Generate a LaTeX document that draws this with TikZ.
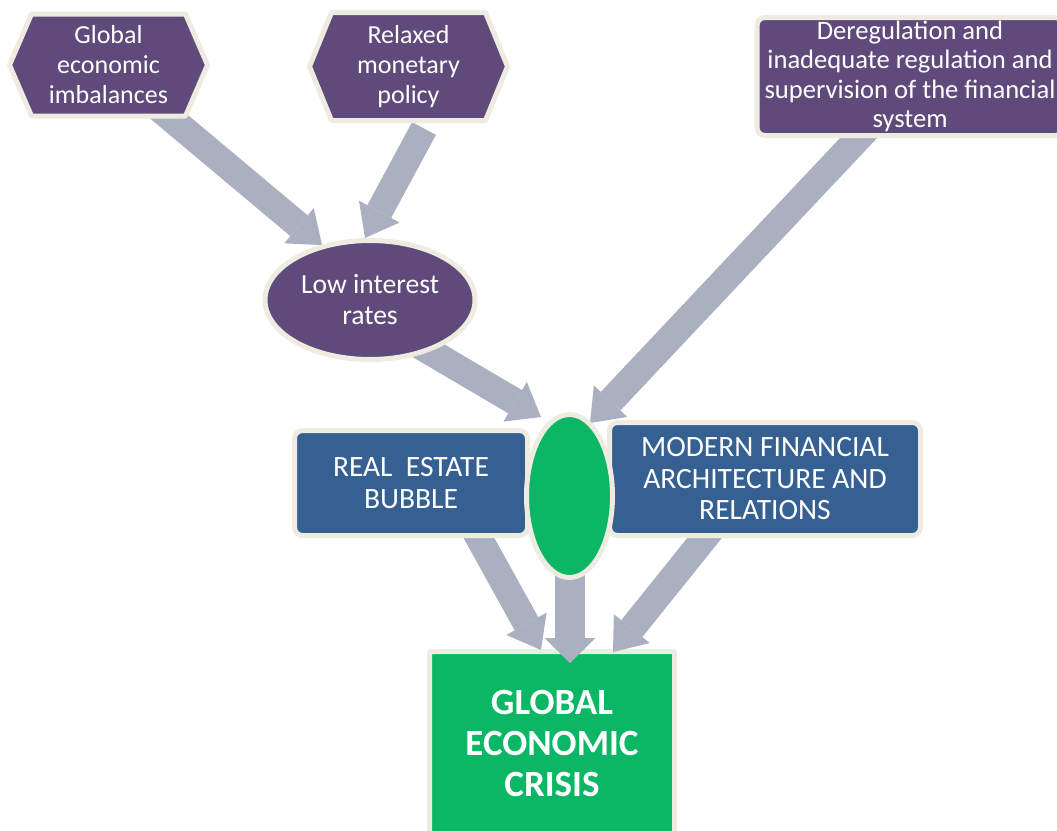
\documentclass[tikz,border=0pt]{standalone}
\usepackage{fontspec}
\setmainfont{Carlito}
\usetikzlibrary{arrows.meta,shapes.geometric}
\definecolor{hexpurple}{RGB}{96,74,123}
\definecolor{boxblue}{RGB}{55,96,146}
\definecolor{crisisgreen}{RGB}{11,183,101}
\definecolor{rimbeige}{RGB}{238,236,225}
\definecolor{arrowgray}{RGB}{170,176,191}
\pgfdeclarelayer{bg}
\pgfdeclarelayer{arr}
\pgfdeclarelayer{shp}
\pgfsetlayers{bg,arr,shp,main}
\tikzset{
  rimline/.style={draw=rimbeige, line width=5pt, line join=round},
  basenode/.style={outer sep=0pt, inner sep=0pt, text=white, align=center},
  hexnode/.style={basenode, rectangle, minimum width=198pt, font=\fontsize{26}{30}\selectfont},
  purplebox/.style={basenode, rimline, fill=hexpurple, rounded corners=8pt, font=\fontsize{26.6}{29.3}\selectfont},
  purpleoval/.style={basenode, rimline, fill=hexpurple, ellipse, font=\fontsize{27.6}{31}\selectfont},
  bluebox/.style={basenode, rimline, fill=boxblue, rounded corners=8pt, font=\fontsize{29.5}{31.5}\selectfont},
  greenoval/.style={basenode, rimline, fill=crisisgreen, ellipse},
  crisisbox/.style={basenode, rimline, fill=crisisgreen, rounded corners=2pt, font=\bfseries\fontsize{37}{41}\selectfont},
  garrow/.style={draw=arrowgray, line width=27pt,
    -{Triangle[width=46pt,length=30pt,line width=0pt]}},
  varrow/.style={draw=arrowgray, line width=30pt,
    -{Triangle[width=51pt,length=25pt,line width=0pt]}}
}
\begin{document}
\begin{tikzpicture}[x=1pt,y=-1pt]
\useasboundingbox (0,0) rectangle (1057,830);
\begin{pgfonlayer}{bg}
  \fill[white] (0,0) rectangle (1057,830);
  \node[crisisbox, minimum width=245pt, minimum height=184pt] (crisis) at (552,743.5)
    {GLOBAL\\ECONOMIC\\CRISIS};
\end{pgfonlayer}

% nodes
\node[hexnode, minimum height=102pt] (h1) at (108.5,65) {Global\\economic\\imbalances};
\node[hexnode, minimum height=108pt] (h2) at (408.5,66.5) {Relaxed\\monetary\\policy};
\node[purplebox, minimum width=306pt, minimum height=118pt] (dereg) at (910,76.5)
  {Deregulation and\\inadequate regulation and\\supervision of the financial\\system};
\node[purpleoval, minimum width=210pt, minimum height=119pt] (low) at (370,300) {Low interest\\rates};
\node[bluebox, minimum width=233pt, minimum height=105pt] (re) at (411,483) {REAL\ \ ESTATE\\BUBBLE};
\node[bluebox, minimum width=311pt, minimum height=113pt] (mod) at (765,479)
  {MODERN FINANCIAL\\ARCHITECTURE AND\\RELATIONS};
\node[greenoval, minimum width=86pt, minimum height=163pt] (eg) at (569.5,496) {};

% hexagon outlines behind the hexagon texts
\begin{pgfonlayer}{shp}
  \foreach \h in {h1,h2}{
    \draw[rimline, fill=hexpurple] (\h.west) -- ([xshift=22pt]\h.north west)
      -- ([xshift=-22pt]\h.north east) -- (\h.east)
      -- ([xshift=-22pt]\h.south east) -- ([xshift=22pt]\h.south west) -- cycle;
  }
\end{pgfonlayer}

% connectors
\begin{pgfonlayer}{arr}
  \draw[garrow] ([xshift=46.5pt,yshift=11pt]h1.south) -- ([xshift=-48pt,yshift=-4.5pt]low.north);
  \draw[garrow] ([xshift=15.5pt,yshift=-8pt]h2.south) -- ([xshift=-5pt,yshift=2.5pt]low.north);
  \draw[garrow] ([xshift=42pt,yshift=-41pt]low.center) -- ([xshift=-28.5pt,yshift=-2.5pt]eg.north);
  \draw[garrow] ([xshift=-42pt,yshift=7.5pt]dereg.south) -- ([xshift=20.5pt,yshift=-8.5pt]eg.north);
  \draw[garrow] ([xshift=58pt,yshift=15.5pt]re.south) -- ([xshift=-11pt,yshift=1.5pt]crisis.north);
  \draw[varrow] ([xshift=0.5pt,yshift=18pt]eg.south) -- ([xshift=18pt,yshift=-11.5pt]crisis.north);
  \draw[garrow] ([xshift=-46pt,yshift=15.5pt]mod.south) -- ([xshift=61pt,yshift=-0.5pt]crisis.north);
\end{pgfonlayer}
\end{tikzpicture}
\end{document}
